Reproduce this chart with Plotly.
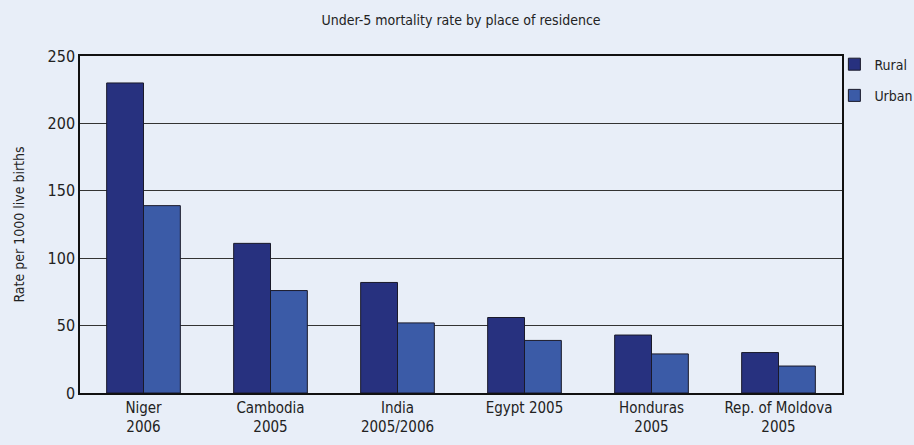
import plotly.graph_objects as go

categories = ["Niger<br>2006", "Cambodia<br>2005", "India<br>2005/2006",
              "Egypt 2005", "Honduras<br>2005", "Rep. of Moldova<br>2005"]
rural = [230, 111, 82, 56, 43, 30]
urban = [139, 76, 52, 39, 29, 20]

FONT = "DejaVu Sans Condensed, Liberation Sans Narrow, sans-serif"
BG = "#E8EEF8"

fig = go.Figure()
fig.add_trace(go.Bar(x=categories, y=rural, name="Rural", legendgroup="r",
                     marker=dict(color="#27317F", line=dict(color="#1a1a2a", width=1))))
fig.add_trace(go.Bar(x=categories, y=urban, name="Urban", legendgroup="u",
                     marker=dict(color="#3B5BA7", line=dict(color="#1a1a2a", width=1))))

fig.update_layout(
    width=914, height=445,
    paper_bgcolor=BG, plot_bgcolor=BG,
    margin=dict(l=80, r=72, t=56, b=52, autoexpand=False),
    barmode="group", bargap=0.42, bargroupgap=0,
    font=dict(family=FONT, size=14, color="#222"),
    title=dict(text="Under-5 mortality rate by place of residence",
               x=0.5, xref="paper", xanchor="center", y=0.955, yanchor="middle",
               font=dict(family=FONT, size=14, color="#222")),
    legend=dict(x=0.99, y=1.022, xanchor="left", yanchor="top",
                bgcolor="rgba(0,0,0,0)", font=dict(family=FONT, size=14, color="#222"),
                itemwidth=30, tracegroupgap=10),
    showlegend=True,
)
fig.update_yaxes(range=[0, 250], dtick=50, showgrid=True, gridcolor="#333", gridwidth=1,
                 showline=True, linecolor="#111", linewidth=1.5, mirror=True,
                 ticks="", zeroline=False,
                 title=dict(text="Rate per 1000 live births", font=dict(family=FONT, size=14, color="#222"),
                            standoff=20),
                 tickfont=dict(family=FONT, size=16, color="#222"))
fig.update_xaxes(showline=True, linecolor="#111", linewidth=1.5, mirror=True,
                 ticks="", tickfont=dict(family=FONT, size=15, color="#222"))

fig.write_html("out.html", config={"displayModeBar": False},
               post_script="document.body.style.margin='0';document.body.style.background='%s';" % BG)
